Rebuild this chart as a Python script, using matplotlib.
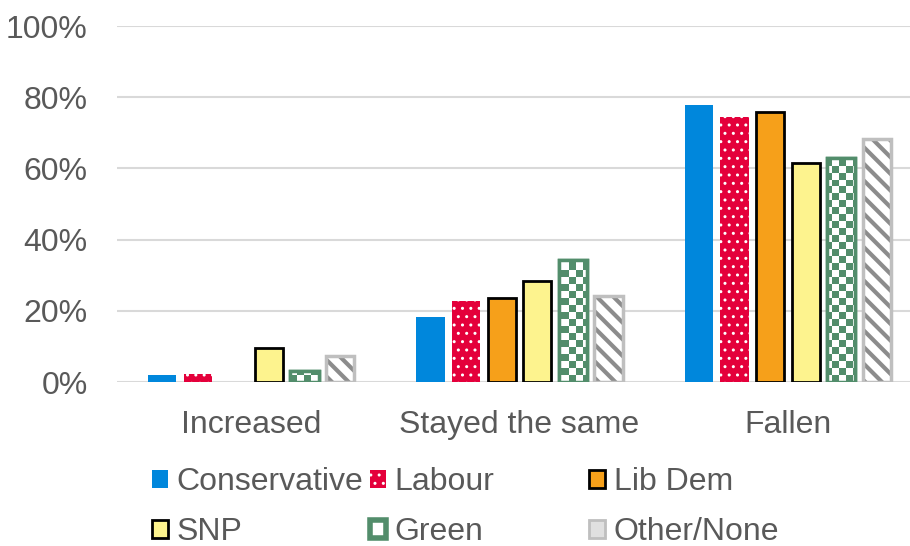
import numpy as np
import matplotlib
matplotlib.use("Agg")
import matplotlib.pyplot as plt
from matplotlib.patches import Patch
from matplotlib.ticker import FuncFormatter
from matplotlib.colors import ListedColormap

plt.rcParams['font.family'] = ['Liberation Sans', 'DejaVu Sans']

categories = ["Increased", "Stayed the same", "Fallen"]
parties = ["Conservative", "Labour", "Lib Dem", "SNP", "Green", "Other/None"]
conservative = [2.0, 18.3, 77.8]
labour = [2.2, 22.8, 74.4]
libdem = [0.0, 23.6, 75.8]
snp = [9.5, 28.4, 61.5]
green = [3.0, 34.3, 62.9]
other = [7.3, 24.2, 68.3]
series = [conservative, labour, libdem, snp, green, other]
yticks = [0, 20, 40, 60, 80, 100]

C_CON = "#0087DC"
C_LAB = "#E4003B"
C_LD = "#F6A01A"
C_SNP = "#FDF38E"
C_GRN = "#528D6B"
C_OTH_EDGE = "#BFBFBF"
C_OTH_HATCH = "#8C8C8C"
TXT = "#595959"
FS = 23

fig = plt.figure(figsize=(9.10, 5.46), dpi=100)
ax = fig.add_axes([117/910, 164/546, 805/910, 356/546])
x = np.arange(len(categories))
step = 0.1326
bw = 0.105

plt.rcParams['hatch.linewidth'] = 1.0

for i, (name, vals) in enumerate(zip(parties, series)):
    pos = x + (i - 2.5) * step
    if name == "Conservative":
        ax.bar(pos, vals, bw, color=C_CON, linewidth=0, zorder=3)
    elif name == "Labour":
        ax.bar(pos, vals, bw, color=C_LAB, linewidth=0, zorder=3)
        ax.bar(pos, vals, bw, facecolor="none", edgecolor="white", hatch="..", linewidth=0, zorder=4)
    elif name == "Lib Dem":
        v = [val if val > 0 else np.nan for val in vals]
        ax.bar(pos, v, bw, color=C_LD, edgecolor="black", linewidth=2, zorder=3)
    elif name == "SNP":
        ax.bar(pos, vals, bw, color=C_SNP, edgecolor="black", linewidth=2, zorder=3)
    elif name == "Green":
        bars = ax.bar(pos, vals, bw, facecolor="white", edgecolor=C_GRN, linewidth=2.5, zorder=3)
        nx, ny = 116, 51
        checker = (np.add.outer(np.arange(ny), np.arange(nx)) % 2).astype(float)
        cmap = ListedColormap(["white", C_GRN])
        for b in bars:
            im = ax.imshow(checker, extent=(-0.5, 2.5, 0, 100), cmap=cmap, aspect='auto',
                           interpolation='nearest', origin='lower', zorder=3.5)
            im.set_clip_path(b)
        ax.bar(pos, vals, bw, facecolor="none", edgecolor=C_GRN, linewidth=2.5, zorder=4)
    else:
        ax.bar(pos, vals, bw, facecolor="white", edgecolor=C_OTH_HATCH, linewidth=0, zorder=3)
        plt.rcParams['hatch.linewidth'] = 3.0
        ax.bar(pos, vals, bw, facecolor="none", edgecolor=C_OTH_HATCH, hatch="\\\\", linewidth=0, zorder=4)
        plt.rcParams['hatch.linewidth'] = 1.0
        ax.bar(pos, vals, bw, facecolor="none", edgecolor=C_OTH_EDGE, linewidth=2.5, zorder=5)

ax.set_xlim(-0.5, 2.5)
ax.set_ylim(0, 100)
ax.set_yticks(yticks)
ax.yaxis.set_major_formatter(FuncFormatter(lambda v, p: f"{int(v)}%"))
ax.set_xticks(x)
ax.set_xticklabels(categories)
ax.tick_params(axis='both', length=0, labelsize=FS, labelcolor=TXT)
ax.tick_params(axis='y', pad=21)
ax.tick_params(axis='x', pad=20)
ax.grid(axis='y', color="#D9D9D9", linewidth=1.5, zorder=0)
ax.set_axisbelow(True)
for s in ax.spines.values():
    s.set_visible(False)

# Legend handles
h_con = Patch(facecolor=C_CON, edgecolor=C_CON, linewidth=0)
h_lab = Patch(facecolor=C_LAB, edgecolor="white", hatch="..", linewidth=0)
h_ld = Patch(facecolor=C_LD, edgecolor="black", linewidth=2)
h_snp = Patch(facecolor=C_SNP, edgecolor="black", linewidth=2)
h_grn = Patch(facecolor="white", edgecolor=C_GRN, linewidth=4)
h_oth = Patch(facecolor="#E0E0E0", edgecolor=C_OTH_EDGE, linewidth=2)

cols = [([h_con, h_snp], ["Conservative", "SNP"], 152),
        ([h_lab, h_grn], ["Labour", "Green"], 370),
        ([h_ld, h_oth], ["Lib Dem", "Other/None"], 589)]
for handles, labels, xp in cols:
    leg = fig.legend(handles, labels, loc="upper left", bbox_to_anchor=(xp/910, 1 - 467/546),
                     frameon=False, fontsize=FS, handlelength=0.5, handleheight=0.5,
                     handletextpad=0.27, labelspacing=0.63, borderpad=0, borderaxespad=0)
    for t in leg.get_texts():
        t.set_color(TXT)

fig.savefig("out.png", dpi=100)
